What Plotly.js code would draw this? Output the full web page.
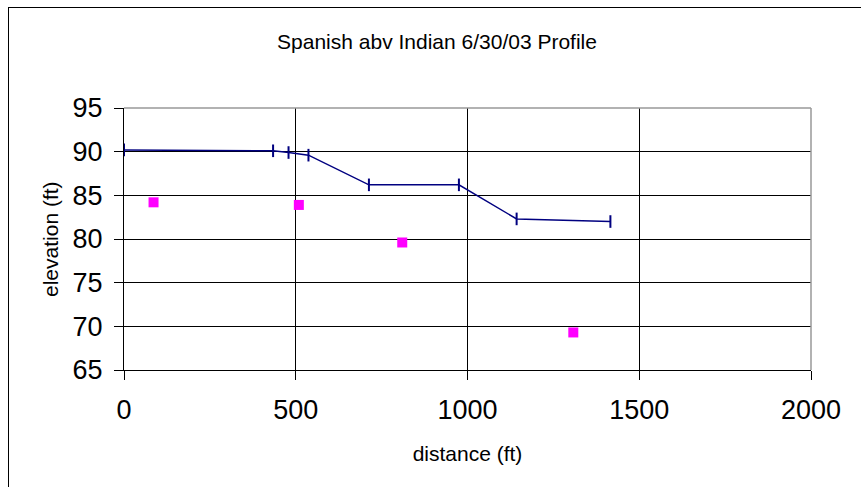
<!DOCTYPE html>
<html>
<head>
<meta charset="utf-8">
<script src="https://cdn.plot.ly/plotly-3.0.1.min.js"></script>
<style>
  html, body { margin: 0; padding: 0; background: #fff; overflow: hidden; }
  #chart { width: 861px; height: 487px; position: absolute; left: 0; top: 0; }
  #frame { position: absolute; left: 8px; top: 7px; width: 900px; height: 520px;
           border-left: 1px solid #000; border-top: 1px solid #000; pointer-events: none; }
</style>
</head>
<body>
<div id="chart"></div>
<div id="frame"></div>
<script>
// Surveyed water-surface profile (line with tick markers)
const profileDistance = [0, 434, 479, 537, 713, 975, 1143, 1416];
const profileElevation = [90.2, 90.1, 89.9, 89.6, 86.2, 86.2, 82.3, 82.0];

// Point observations (magenta squares)
const pointDistance = [86, 509, 810, 1308];
const pointElevation = [84.2, 83.9, 79.6, 69.3];

const xTicks = [0, 500, 1000, 1500, 2000];
const yTicks = [65, 70, 75, 80, 85, 90, 95];

const chartTitle = "Spanish abv Indian 6/30/03 Profile";
const xTitle = "distance (ft)";
const yTitle = "elevation (ft)";

const font = "Arial, 'Liberation Sans', sans-serif";

const traces = [
  {
    x: profileDistance, y: profileElevation,
    type: "scatter", mode: "lines+markers",
    line: { color: "#000080", width: 1.5 },
    marker: { symbol: "line-ns", size: 9, line: { color: "#000080", width: 2 } },
    hoverinfo: "skip"
  },
  {
    x: pointDistance, y: pointElevation,
    type: "scatter", mode: "markers",
    marker: { symbol: "square", size: 10, color: "#FF00FF", line: { width: 0 } },
    hoverinfo: "skip"
  }
];

const layout = {
  width: 861, height: 487,
  margin: { l: 124, r: 50, t: 108, b: 117, pad: 0 },
  paper_bgcolor: "#ffffff", plot_bgcolor: "#ffffff",
  showlegend: false,
  font: { family: font, color: "#000" },
  title: {
    text: chartTitle, font: { family: font, size: 21, color: "#000" },
    x: (437 - 124) / 687, xanchor: "center", xref: "paper",
    y: 1 - 42 / 487, yanchor: "middle", yref: "container"
  },
  xaxis: {
    range: [0, 2000], tickvals: xTicks, ticktext: xTicks.map(String),
    showgrid: true, gridcolor: "#000", gridwidth: 1,
    zeroline: false, showline: true, linecolor: "#000", linewidth: 1,
    ticks: "outside", ticklen: 9, tickcolor: "#000", tickwidth: 1,
    ticklabelstandoff: 7,
    tickfont: { family: font, size: 27, color: "#000" },
    title: { text: xTitle, font: { family: font, size: 21, color: "#000" }, standoff: 21 }
  },
  yaxis: {
    range: [65, 95], tickvals: yTicks, ticktext: yTicks.map(String),
    showgrid: true, gridcolor: "#000", gridwidth: 1,
    zeroline: false, showline: true, linecolor: "#000", linewidth: 1,
    ticks: "outside", ticklen: 9, tickcolor: "#000", tickwidth: 1,
    ticklabelstandoff: 6,
    tickfont: { family: font, size: 27, color: "#000" }
  },
  annotations: [
    { text: yTitle, xref: "paper", yref: "paper", x: (50 - 124) / 687, y: 0.5,
      xanchor: "center", yanchor: "middle", textangle: -90, showarrow: false,
      font: { family: font, size: 21, color: "#000" } }
  ],
  shapes: [
    { type: "line", xref: "paper", yref: "paper", x0: 0, x1: 1, y0: 1, y1: 1,
      line: { color: "#999", width: 1.5 }, layer: "above" },
    { type: "line", xref: "paper", yref: "paper", x0: 1, x1: 1, y0: 0, y1: 1,
      line: { color: "#999", width: 1.5 }, layer: "above" }
  ]
};

Plotly.newPlot("chart", traces, layout, { staticPlot: true, displayModeBar: false });
</script>
</body>
</html>
